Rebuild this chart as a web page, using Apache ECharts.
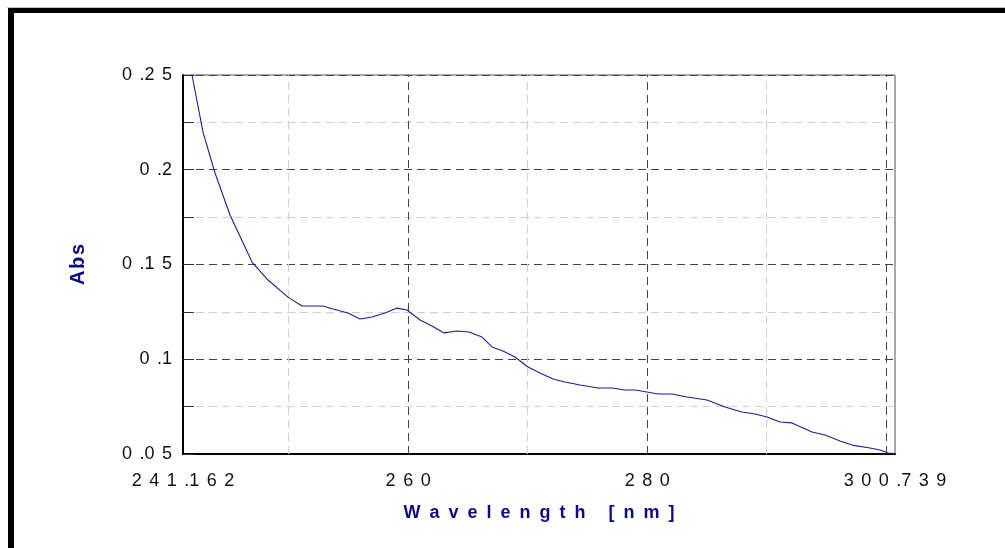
<!DOCTYPE html>
<html>
<head>
<meta charset="utf-8">
<script src="https://cdn.jsdelivr.net/npm/echarts@6/dist/echarts.min.js"></script>
<style>html,body{margin:0;padding:0;background:#fff;}#c{width:1005px;height:548px;}</style>
</head>
<body>
<div id="c"></div>
<script>
// ---- data ----
const wavelength = [241.162, 241.915, 242.836, 243.84, 245.095, 246.936, 248.275, 249.949, 251.12, 252.877, 253.714, 254.97, 255.974, 256.978, 258.066, 259.07, 259.907, 260.995, 261.999, 263.003, 264.091, 265.095, 266.183, 267.02, 267.94, 268.944, 270.032, 271.036, 272.124, 273.129, 274.384, 275.89, 277.062, 278.149, 278.986, 279.99, 280.911, 282.083, 283.338, 285.011, 286.518, 287.94, 289.028, 290.032, 291.12, 292.124, 293.798, 294.886, 296.141, 297.145, 298.652, 299.488, 300.158, 300.739];
const absorbance = [0.275, 0.25, 0.2199, 0.1983, 0.1761, 0.1513, 0.1418, 0.1328, 0.1281, 0.1281, 0.1265, 0.1244, 0.1212, 0.1223, 0.1244, 0.127, 0.126, 0.1207, 0.1175, 0.1139, 0.1149, 0.1144, 0.1117, 0.1065, 0.1044, 0.1012, 0.0959, 0.0927, 0.0896, 0.088, 0.0864, 0.0848, 0.0848, 0.0838, 0.0838, 0.0827, 0.0817, 0.0817, 0.0801, 0.0785, 0.0748, 0.0722, 0.0711, 0.0695, 0.0669, 0.0664, 0.0616, 0.06, 0.0569, 0.0547, 0.0532, 0.0521, 0.0505, 0.0502];
const xTickValues = [241.162, 260, 280, 300.739];
const xTickLabels = ['241.162', '260', '280', '300.739'];
const xGridMajor = [260, 280, 300];
const xGridMinor = [250, 270, 290];
const yTickValues = [0.05, 0.1, 0.15, 0.2, 0.25];
const yTickLabels = ['0.05', '0.1', '0.15', '0.2', '0.25'];
const xTitle = 'Wavelength [nm]';
const yTitle = 'Abs';

// ---- helpers ----
// wide letter spacing, the decimal point sticks to the following digit
function spacedNum(s) {
  let out = '';
  for (let i = 0; i < s.length; i++) {
    out += s[i];
    if (i < s.length - 1 && s[i] !== '.') out += '\u2004\u200A';
  }
  return out;
}
function spaced(s, sep) { return s.split('').join(sep); }
const NAVY = '#0a0a85';
const FONT = '"Liberation Sans", Arial, sans-serif';

const chart = echarts.init(document.getElementById('c'), null, {renderer: 'canvas'});
const points = wavelength.map((w, i) => [w, absorbance[i]]);

const gridLines = [];
xGridMinor.forEach(v => gridLines.push({xAxis: v, lineStyle: {color: '#cfcfcf', type: [8, 5], width: 1}}));
xGridMajor.forEach(v => gridLines.push({xAxis: v, lineStyle: {color: '#444', type: [8, 5], width: 1}}));

chart.setOption({
  animation: false,
  backgroundColor: '#fff',
  grid: {left: 183, top: 75, width: 712, height: 379, show: true, borderColor: '#555', borderWidth: 1, containLabel: false, outerBoundsMode: 'none'},
  graphic: [
    {type: 'rect', shape: {x: 7, y: 7, width: 998, height: 1}, style: {fill: '#bdbdbd'}, silent: true},
    {type: 'rect', shape: {x: 8, y: 8, width: 997, height: 5}, style: {fill: '#000'}, silent: true},
    {type: 'rect', shape: {x: 8, y: 8, width: 6, height: 540}, style: {fill: '#000'}, silent: true}
  ],
  xAxis: {
    type: 'value', min: xTickValues[0], max: xTickValues[xTickValues.length - 1],
    name: spaced(xTitle, '\u2002'), nameLocation: 'middle', nameGap: 50,
    nameTextStyle: {color: NAVY, fontWeight: 'bold', fontSize: 18, fontFamily: FONT},
    axisLine: {show: true, onZero: false, lineStyle: {color: '#000', width: 2}},
    axisTick: {show: true, inside: true, length: 8, customValues: [250, 260, 270, 280, 290, 300], lineStyle: {color: '#333'}},
    axisLabel: {
      show: true, margin: 18, fontSize: 18, color: '#111', fontFamily: FONT,
      customValues: xTickValues,
      formatter: function (v) {
        let idx = xTickValues.findIndex(t => Math.abs(t - v) < 1e-6);
        return idx >= 0 ? spacedNum(xTickLabels[idx]) : '';
      }
    },
    splitLine: {show: false}
  },
  yAxis: {
    type: 'value', min: 0.05, max: 0.25, interval: 0.025,
    name: spaced(yTitle, '\u200A'), nameLocation: 'middle', nameGap: 95, nameRotate: 90,
    nameTextStyle: {color: NAVY, fontWeight: 'bold', fontSize: 20, fontFamily: FONT},
    axisLine: {show: true, lineStyle: {color: '#000', width: 2}},
    axisTick: {show: true, inside: true, length: 11, lineStyle: {color: '#333'}},
    axisLabel: {
      show: true, margin: 11, fontSize: 18, color: '#111', fontFamily: FONT,
      formatter: function (v) {
        let idx = yTickValues.findIndex(t => Math.abs(t - v) < 1e-6);
        return idx >= 0 ? spacedNum(yTickLabels[idx]) : '';
      }
    },
    splitLine: {show: true, lineStyle: {color: ['#444', '#cfcfcf'], type: [8, 5], width: 1}}
  },
  series: [{
    type: 'line', data: points, showSymbol: false, symbol: 'none', clip: true,
    lineStyle: {color: '#1d1d95', width: 1.1},
    z: 3,
    markLine: {silent: true, symbol: 'none', label: {show: false}, data: gridLines, z: 1}
  }]
});
</script>
</body>
</html>
